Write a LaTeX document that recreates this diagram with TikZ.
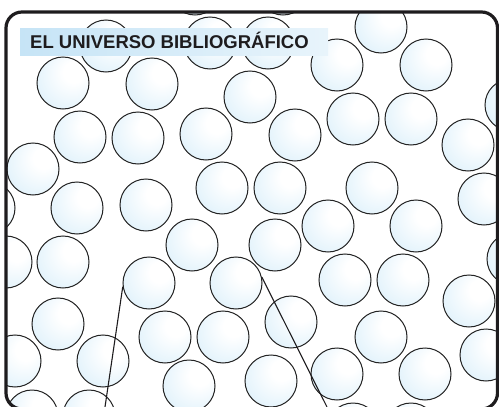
\documentclass[tikz,border=0pt]{standalone}
\usepackage{fontspec}
\setmainfont{Liberation Sans}
\definecolor{ballA}{RGB}{255,255,255}
\definecolor{ballB}{RGB}{232,245,252}
\definecolor{ballC}{RGB}{197,228,245}
\definecolor{ballD}{RGB}{178,218,240}
\definecolor{ballline}{RGB}{35,35,35}
\definecolor{inkc}{RGB}{30,28,30}
\definecolor{boxL}{RGB}{198,228,246}
\definecolor{boxR}{RGB}{232,244,251}
\pgfdeclareradialshading{bubshade}{\pgfpoint{12bp}{12bp}}{color(0bp)=(ballA); color(10bp)=(ballA); color(30bp)=(ballB); color(60bp)=(ballC); color(76bp)=(ballD)}
\begin{document}
\begin{tikzpicture}[x=1pt,y=-1pt,
  bub/.style={circle, draw=ballline, line width=1pt, shading=bubshade, minimum size=52pt, inner sep=0pt},
  frameline/.style={draw=inkc, line width=3.2pt, rounded corners=16pt},
  pointer/.style={draw=inkc, line width=1.1pt}]
\useasboundingbox (0,0) rectangle (499,407);
\begin{scope}
\clip[rounded corners=16pt] (6,12) rectangle (497.5,409);
\foreach \x/\y [count=\i] in {
 106/46, 63/83, 152/84, 210/43, 268/43, 250/97, 381/27, 337/65, 426/65, 511/105,
 80/137, 138/138, 206/134, 295/135, 353/119, 411/119, 468/145,
 33/169, -11/208, 77/208, 146/205, 222/188, 280/188, 372/188, 484/199,
 192/245, 275/245, 328/226, 416/226,
 6/262, 63/262, 345/280, 403/280, 513/259, 469/301,
 58/324, 165/337, 223/337, 291/322, 381/337, 486/355,
 15/361, 103/361, 189/386, 271/381, 337/374, 425/374,
 32/416, 89/416, 353/429, 411/429, 195/-11, 283/-11}
  \node[bub] (c\i) at (\x,\y) {};
\node[bub] (cA) at (149,283) {};
\node[bub] (cB) at (236,283) {};
\end{scope}
\shade[left color=boxL, right color=boxR] (20,28) rectangle (328,55);
\node[anchor=base west, inner sep=0pt, text=inkc, font=\bfseries\fontsize{18.5}{20}\selectfont] (title) at (30,48) {EL UNIVERSO BIBLIOGRÁFICO};
\coordinate (e1) at (105,407);
\coordinate (e2) at (327,407);
\draw[pointer] (cA.188.7) -- (e1);
\draw[pointer] (cB.13.5) -- (e2);
\draw[frameline] (6,12) rectangle (497.5,409);
\end{tikzpicture}
\end{document}
